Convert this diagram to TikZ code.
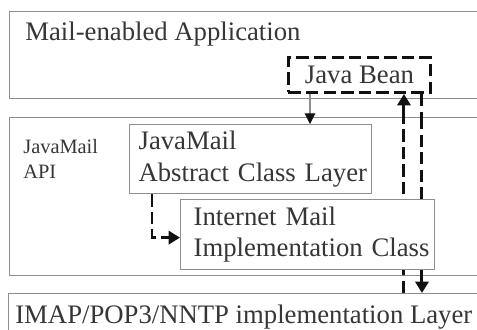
\documentclass[tikz,border=0pt]{standalone}
\usepackage{fontspec}
\setmainfont{Liberation Serif}
\usepackage{tikz}
\usetikzlibrary{arrows.meta,calc,positioning}
\definecolor{boxgray}{HTML}{8E8E8E}
\definecolor{inkgray}{HTML}{363636}
\definecolor{flowblack}{HTML}{111111}

\begin{document}
\begin{tikzpicture}[x=0.02cm,y=-0.02cm,
    layer/.style={draw=boxgray,line width=0.7pt,fill=white,inner sep=0pt,anchor=north west},
    classbox/.style={layer,text=inkgray,align=left,inner ysep=0pt,
      font=\fontsize{15.2}{18.1}\selectfont},
    beanbox/.style={draw=flowblack,line width=1.7pt,dash pattern=on 7pt off 3pt,fill=white,
      text=inkgray,inner sep=0pt,anchor=north west,font=\fontsize{15.2}{18.1}\selectfont},
    bigtext/.style={text=inkgray,inner sep=0pt,font=\fontsize{15.2}{18.1}\selectfont},
    smalltext/.style={text=inkgray,inner sep=0pt,align=left,font=\fontsize{11.6}{14.2}\selectfont},
    callflow/.style={draw=boxgray,line width=0.6pt,-{Triangle[length=6pt,width=6pt,color=flowblack]}},
    dataflow/.style={draw=flowblack,line width=1.7pt,dash pattern=on 7pt off 3pt},
    dataarrow/.style={dataflow,-{Triangle[length=6.5pt,width=7.5pt]}}]
    \fill[white] (0,0) rectangle (477,329);
    \useasboundingbox (0,0) rectangle (477,329);

    % the three layers
    \node[layer,minimum width=9.8cm,minimum height=1.74cm] (app) at (9,11) {};
    \node[layer,minimum width=9.8cm,minimum height=3.16cm] (api) at (9,117) {};
    \node[layer,minimum width=9.8cm,minimum height=1.2cm] (imap) at (8,293) {};
    \node[bigtext,anchor=base west] (apptext) at (25,40) {Mail-enabled Application};
    \node[smalltext,anchor=north west] (apitext) at (23,139) {JavaMail\\API};
    \node[bigtext,anchor=base west] (imaptext) at (15,323) {IMAP/POP3/NNTP implementation Layer};

    % boxes inside
    \node[beanbox,minimum width=2.84cm,minimum height=0.7cm] (bean) at (287,56) {Java Bean};
    \node[classbox,text width=4.48cm,inner xsep=0.18cm,minimum height=1.38cm] (abs) at (129,124)
      {JavaMail\\\mbox{Abstract Class Layer}};

    \coordinate (down) at ([xshift=-0.2cm]bean.south east);
    \coordinate (up) at ([xshift=-0.56cm]bean.south east);

    \draw[callflow] ([xshift=0.46cm]bean.south west) -- ([xshift=0.46cm]bean.south west |- abs.north);
    \draw[dataflow] (down) -- (down |- api.north);
    \draw[dataflow] (up |- api.north) -- (up |- app.south);
    \draw[dataflow] (down |- api.north) -- ++(0,85);
    \draw[dataarrow] (up |- abs.south) -- (up);

    \node[classbox,text width=4.56cm,inner xsep=0.26cm,minimum height=1.4cm] (inet) at (180,199)
      {Internet Mail\\\mbox{Implementation Class}};

    \draw[dataarrow] ([xshift=0.46cm]abs.south west) |- ([yshift=-0.06cm]inet.west);
    \draw[dataarrow] (down |- inet.south) -- (down |- imap.north);
    \draw[dataflow] (up |- imap.north) -- (up |- inet.south);
  \end{tikzpicture}
\end{document}
